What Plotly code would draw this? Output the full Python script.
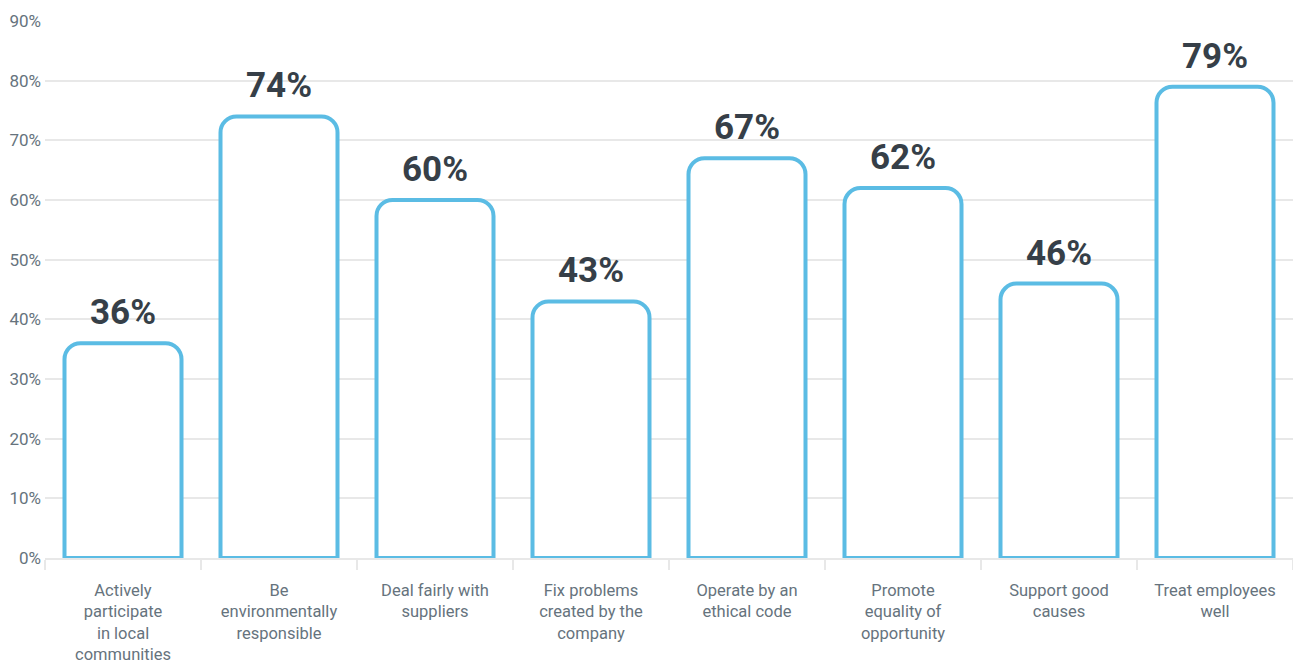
import plotly.graph_objects as go

categories = [
    "Actively<br>participate<br>in local<br>communities",
    "Be<br>environmentally<br>responsible",
    "Deal fairly with<br>suppliers",
    "Fix problems<br>created by the<br>company",
    "Operate by an<br>ethical code",
    "Promote<br>equality of<br>opportunity",
    "Support good<br>causes",
    "Treat employees<br>well",
]
values = [36, 74, 60, 43, 67, 62, 46, 79]
y_ticks = [0, 10, 20, 30, 40, 50, 60, 70, 80, 90]
y_tick_labels = [f"{v}%" for v in y_ticks]

BLUE = "#5bbce4"
DARK = "#363f48"
GREY_TEXT = "#66737d"
GRID = "#e8e8e8"

fig = go.Figure()
fig.add_trace(go.Bar(
    x=categories,
    y=values,
    marker=dict(color="white", line=dict(color=BLUE, width=4), cornerradius=16),
    hoverinfo="skip",
))

for c, v in zip(categories, values):
    fig.add_annotation(
        x=c, y=v, text=f"<b>{v}%</b>", showarrow=False,
        yanchor="bottom", yshift=8,
        font=dict(family="Roboto", size=35, color=DARK),
    )

fig.update_layout(
    width=1293, height=664,
    margin=dict(l=45, r=0, t=21, b=106),
    paper_bgcolor="white", plot_bgcolor="white",
    bargap=0.25,
    showlegend=False,
    font=dict(family="Roboto", color=GREY_TEXT),
)
fig.update_yaxes(
    range=[0, 90], tickvals=y_ticks, ticktext=y_tick_labels,
    showgrid=True, gridcolor=GRID, gridwidth=1.5,
    zeroline=False, showline=False,
    tickfont=dict(size=17, color=GREY_TEXT), ticks="",
    ticklabelstandoff=3, automargin=False,
)
fig.update_xaxes(
    tickson="boundaries", ticks="outside", ticklen=10, tickcolor=GRID, tickwidth=2,
    showline=True, linecolor=GRID, linewidth=2,
    tickfont=dict(size=16.5, color=GREY_TEXT),
    tickangle=0, ticklabelstandoff=16, automargin=False,
)

fig.write_html("out.html")
